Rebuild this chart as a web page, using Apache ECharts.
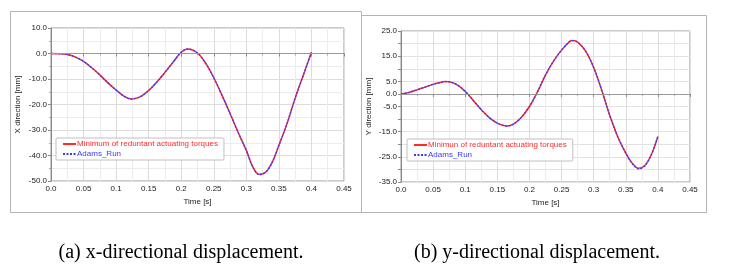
<!DOCTYPE html>
<html>
<head>
<meta charset="utf-8">
<script src="https://cdn.jsdelivr.net/npm/echarts@6/dist/echarts.min.js"></script>
<style>html,body{margin:0;padding:0;background:#fff}#c{width:732px;height:272px}</style>
</head>
<body>
<div id="c"></div>
<script>
// ---- data ----
const timeX = [0, 0.0125, 0.025, 0.0375, 0.05, 0.0625, 0.075, 0.0875, 0.1, 0.1125, 0.123, 0.1375, 0.15, 0.1625, 0.175, 0.1875, 0.2, 0.21, 0.225, 0.2375, 0.25, 0.2625, 0.275, 0.2875, 0.3, 0.31, 0.32, 0.33, 0.34, 0.35, 0.3625, 0.375, 0.3875, 0.4];
const xMinTorque = [0, -0.1, -0.4, -1.4, -3.1, -5.6, -8.4, -11.5, -14.3, -16.8, -17.8, -16.9, -14.5, -11.2, -7.4, -3.4, 0.5, 1.8, 0.2, -3.8, -9.5, -16.3, -23.5, -31, -38, -44.5, -47.4, -46.5, -42.5, -36, -27.5, -17.5, -8.5, 0.5];
const xAdams = [0, -0.1, -0.4, -1.4, -3.1, -5.6, -8.4, -11.5, -14.3, -16.8, -17.9, -16.9, -14.5, -11.2, -7.4, -3.4, 0.5, 1.8, 0.2, -3.8, -9.5, -16.3, -23.5, -31, -38, -44.5, -47.6, -46.5, -42.5, -36, -27.5, -17.5, -8.5, 0.5];
const timeY = [0, 0.0125, 0.025, 0.0375, 0.05, 0.0625, 0.068, 0.075, 0.0875, 0.1, 0.1125, 0.125, 0.1375, 0.15, 0.165, 0.175, 0.1875, 0.2, 0.2125, 0.225, 0.2375, 0.25, 0.2625, 0.267, 0.275, 0.2875, 0.3, 0.3125, 0.325, 0.3375, 0.35, 0.36, 0.37, 0.38, 0.39, 0.4];
const yMinTorque = [0, 0.6, 1.6, 2.7, 3.8, 4.6, 4.9, 4.8, 3.6, 1.0, -2.6, -6.3, -9.4, -11.6, -12.7, -12.0, -9.3, -5.0, 0.8, 7.5, 13.0, 17.4, 20.8, 21.2, 20.6, 17.0, 10.5, 1.5, -8.5, -17.0, -23.5, -27.5, -29.5, -28.3, -24.0, -16.9];
const yAdams = [0, 0.6, 1.6, 2.7, 3.8, 4.6, 4.9, 4.8, 3.6, 1.0, -2.6, -6.3, -9.4, -11.6, -12.8, -12.0, -9.3, -5.0, 0.8, 7.5, 13.0, 17.4, 20.8, 21.2, 20.6, 17.0, 10.5, 1.5, -8.5, -17.0, -23.5, -27.7, -29.8, -28.5, -24.0, -16.9];
const xTickLabels = ['0.0', '0.05', '0.1', '0.15', '0.2', '0.25', '0.3', '0.35', '0.4', '0.45'];
const yRightShown = [25, 15, 5, 0, -5, -15, -25, -35];
const nameRedLeft = 'Minimum of reduntant actuating torques';
const nameRedRight = 'Minimun of reduntant actuating torques';
const nameBlue = 'Adams_Run';
const captionA = '(a) x-directional displacement.';
const captionB = '(b) y-directional displacement.';

const pairs = (xs, ys) => xs.map((t, i) => [t, ys[i]]);
const RED = '#ff2a2a', BLUE = '#3a3aff';
const FONT = 'Liberation Sans';
const txt = {fontFamily: FONT, fontSize: 8, color: '#222'};

function xAxis(gi) {
  return {
    type: 'value', gridIndex: gi, min: 0, max: 0.45, interval: 0.05,
    name: 'Time [s]', nameLocation: 'middle', nameGap: 16, nameTextStyle: txt,
    axisLine: {show: true, lineStyle: {color: '#888'}},
    axisTick: {show: true, length: 3, inside: false, lineStyle: {color: '#888'}},
    minorTick: {show: true, splitNumber: 2, length: 2, lineStyle: {color: '#aaa'}},
    splitLine: {show: true, lineStyle: {color: '#dcdcdc', width: 1}},
    minorSplitLine: {show: true, lineStyle: {color: '#ececec', width: 1}},
    axisLabel: Object.assign({margin: 4, formatter: v => xTickLabels[Math.round(v / 0.05)]}, txt)
  };
}

function legend(left, top, redName) {
  return {
    orient: 'vertical', left: left, top: top, itemWidth: 13, itemHeight: 6, itemGap: 2,
    padding: [2, 6, 2, 6], borderColor: '#c0c0c0', borderWidth: 1, borderRadius: 1, backgroundColor: '#fff',
    itemStyle: {opacity: 0},
    data: [{name: redName, textStyle: {color: RED}}, {name: nameBlue, textStyle: {color: BLUE}}],
    textStyle: {fontFamily: FONT, fontSize: 8, padding: [0, 0, 0, -4]}
  };
}

const option = {
  animation: false,
  graphic: [
    {type: 'rect', shape: {x: 10.5, y: 11.5, width: 351, height: 201}, style: {fill: 'none', stroke: '#b4b4b4', lineWidth: 1}, silent: true},
    {type: 'rect', shape: {x: 361.5, y: 15.5, width: 345, height: 197}, style: {fill: 'none', stroke: '#b4b4b4', lineWidth: 1}, silent: true},
    {type: 'text', x: 181, y: 253, style: {text: captionA, fontFamily: 'Liberation Serif', fontSize: 20, fill: '#000', align: 'center', verticalAlign: 'middle'}},
    {type: 'text', x: 537, y: 253, style: {text: captionB, fontFamily: 'Liberation Serif', fontSize: 20, fill: '#000', align: 'center', verticalAlign: 'middle'}}
  ],
  grid: [
    {left: 51, top: 28, width: 293, height: 153, show: true, borderColor: '#999', borderWidth: 1, backgroundColor: '#fff'},
    {left: 401, top: 31, width: 289, height: 151, show: true, borderColor: '#999', borderWidth: 1, backgroundColor: '#fff'}
  ],
  legend: [legend(56, 138, nameRedLeft), legend(407, 139, nameRedRight)],
  xAxis: [xAxis(0), xAxis(1)],
  yAxis: [
    {
      type: 'value', gridIndex: 0, min: -50, max: 10, interval: 10,
      name: 'X direction [mm]', nameLocation: 'middle', nameGap: 29, nameTextStyle: txt,
      axisLine: {show: true, lineStyle: {color: '#888'}},
      axisTick: {show: true, length: 3, lineStyle: {color: '#888'}},
      minorTick: {show: true, splitNumber: 2, length: 2, lineStyle: {color: '#aaa'}},
      splitLine: {show: true, lineStyle: {color: '#dcdcdc'}},
      minorSplitLine: {show: true, lineStyle: {color: '#ececec'}},
      axisLabel: Object.assign({margin: 4, formatter: v => v.toFixed(1)}, txt)
    },
    {
      type: 'value', gridIndex: 1, min: -35, max: 25, interval: 5,
      name: 'Y direction [mm]', nameLocation: 'middle', nameGap: 28, nameTextStyle: txt,
      axisLine: {show: true, lineStyle: {color: '#888'}},
      axisTick: {show: true, length: 3, lineStyle: {color: '#888'}},
      splitLine: {show: true, lineStyle: {color: '#e2e2e2'}},
      axisLabel: Object.assign({margin: 4, formatter: v => yRightShown.indexOf(Math.round(v)) >= 0 ? v.toFixed(1) : ''}, txt)
    }
  ],
  series: [
    {
      name: nameRedLeft, type: 'line', xAxisIndex: 0, yAxisIndex: 0, data: pairs(timeX, xMinTorque),
      smooth: 0.35, symbol: 'none', color: RED, lineStyle: {color: RED, width: 1.5},
      markLine: {silent: true, symbol: 'none', label: {show: false}, lineStyle: {color: '#999', type: 'solid', width: 1}, data: [{yAxis: 0}]}
    },
    {
      name: nameBlue, type: 'line', xAxisIndex: 0, yAxisIndex: 0, data: pairs(timeX, xAdams),
      smooth: 0.35, symbol: 'none', color: BLUE, lineStyle: {color: BLUE, width: 1.3, type: [2, 1.5]}
    },
    {
      name: nameRedRight, type: 'line', xAxisIndex: 1, yAxisIndex: 1, data: pairs(timeY, yMinTorque),
      smooth: 0.35, symbol: 'none', color: RED, lineStyle: {color: RED, width: 1.5},
      markLine: {silent: true, symbol: 'none', label: {show: false}, lineStyle: {color: '#999', type: 'solid', width: 1}, data: [{yAxis: 0}]}
    },
    {
      name: nameBlue, type: 'line', xAxisIndex: 1, yAxisIndex: 1, data: pairs(timeY, yAdams),
      smooth: 0.35, symbol: 'none', color: BLUE, lineStyle: {color: BLUE, width: 1.3, type: [2, 1.5]}
    }
  ]
};
const chart = echarts.init(document.getElementById('c'), null, {renderer: 'canvas'});
chart.setOption(option);
</script>
</body>
</html>
